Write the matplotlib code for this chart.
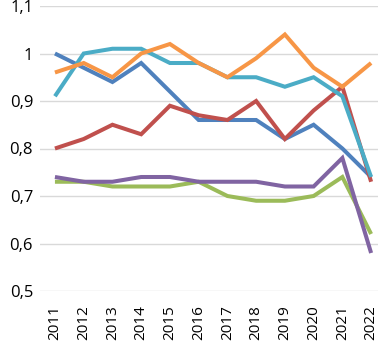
import matplotlib
matplotlib.use("Agg")
import matplotlib.pyplot as plt
from matplotlib.ticker import FuncFormatter

years = ["2011", "2012", "2013", "2014", "2015", "2016", "2017", "2018", "2019", "2020", "2021", "2022"]
blue = [1.00, 0.97, 0.94, 0.98, 0.92, 0.86, 0.86, 0.86, 0.82, 0.85, 0.80, 0.74]
red = [0.80, 0.82, 0.85, 0.83, 0.89, 0.87, 0.86, 0.90, 0.82, 0.88, 0.93, 0.73]
green = [0.73, 0.73, 0.72, 0.72, 0.72, 0.73, 0.70, 0.69, 0.69, 0.70, 0.74, 0.62]
purple = [0.74, 0.73, 0.73, 0.74, 0.74, 0.73, 0.73, 0.73, 0.72, 0.72, 0.78, 0.58]
cyan = [0.91, 1.00, 1.01, 1.01, 0.98, 0.98, 0.95, 0.95, 0.93, 0.95, 0.91, 0.74]
orange = [0.96, 0.98, 0.95, 1.00, 1.02, 0.98, 0.95, 0.99, 1.04, 0.97, 0.93, 0.98]

series = [
    (blue, "#4F81BD"),
    (red, "#C0504D"),
    (green, "#9BBB59"),
    (purple, "#8064A2"),
    (cyan, "#4BACC6"),
    (orange, "#F79646"),
]

plt.rcParams['font.family'] = ['Open Sans', 'DejaVu Sans']
fig = plt.figure(figsize=(3.78, 3.41), dpi=100)
ax = fig.add_axes([40/378, 50/341, 338/378, 285/341])
x = list(range(len(years)))
for vals, c in series:
    ax.plot(x, vals, color=c, lw=2.9, solid_joinstyle='miter', solid_capstyle='butt')

ax.set_ylim(0.5, 1.1)
ax.set_yticks([0.5, 0.6, 0.7, 0.8, 0.9, 1.0, 1.1])
ax.yaxis.set_major_formatter(FuncFormatter(lambda v, p: ("%g" % round(v, 2)).replace(".", ",")))
ax.set_xlim(-0.52, 11.24)
ax.set_xticks(x)
ax.set_xticklabels(years, rotation=90)
ax.grid(axis='y', color='#D9D9D9', lw=1)
ax.set_axisbelow(True)
for s in ax.spines.values():
    s.set_visible(False)
ax.tick_params(axis='both', length=0, colors='black')
ax.tick_params(axis='y', pad=5, labelsize=12)
ax.tick_params(axis='x', pad=10, labelsize=11)
fig.savefig("out.png", dpi=100)
